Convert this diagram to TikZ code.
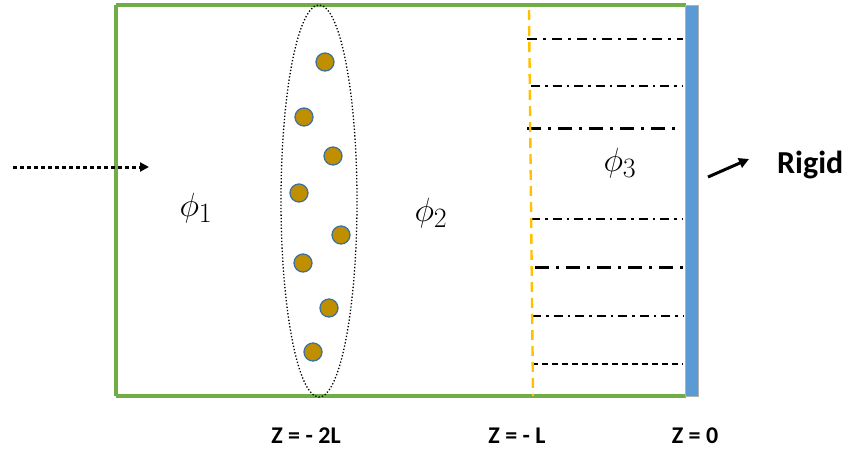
\documentclass[tikz,border=0pt]{standalone}
\usepackage{fontspec}
\newfontfamily\calib{Carlito}
\usetikzlibrary{arrows.meta}
\definecolor{bgreen}{HTML}{70AD47}
\definecolor{bblue}{HTML}{5B9BD5}
\definecolor{byellow}{HTML}{FFC000}
\definecolor{dotfill}{HTML}{BF8F00}
\definecolor{dotline}{HTML}{41719C}
\newcommand{\bigphi}[1]{\scalebox{1.35}{$\phi_{#1}$}}
\tikzset{
  wall/.style={draw=bgreen, line width=4pt},
  particle/.style={circle, fill=dotfill, draw=dotline, line width=1.3pt, minimum size=18pt, inner sep=0pt},
  lbl/.style={font=\calib\bfseries\fontsize{24}{28}\selectfont, inner sep=0pt, anchor=base},
  philbl/.style={font=\fontsize{24.88}{30}\selectfont, inner sep=0pt},
  thickdd/.style={line width=3pt, dash pattern=on 14pt off 7pt on 3pt off 7pt},
  medd/.style={line width=2.6pt, dash pattern=on 10pt off 6pt on 3pt off 6pt},
  thindd/.style={line width=1.6pt, dash pattern=on 9pt off 5pt on 2.5pt off 5pt},
  thinda/.style={line width=1.6pt, dash pattern=on 6pt off 4pt},
}
\begin{document}
\begin{tikzpicture}[x=1pt,y=-1pt]
\useasboundingbox (0,0) rectangle (851,451);
% container
\draw[wall] (116,5) -- (686,5);
\draw[wall] (116,396) -- (686,396);
\draw[wall] (116,5) -- (116,396);
% dash-dot lines
\draw[medd] (527,39) -- (683,39);
\draw[thindd] (531,86) -- (683,86);
\draw[thickdd] (527,128) -- (677,128);
\draw[thindd] (531,219) -- (683,219);
\draw[thickdd] (535,267) -- (683,267);
\draw[thindd] (532,316) -- (683,316);
\draw[thinda] (532,364) -- (683,364);
% interface
\draw[byellow, line width=2.4pt, dash pattern=on 10pt off 6pt] (529,10) -- (533,396);
% rigid wall
\node[draw=gray!60, line width=0.8pt, fill=bblue, minimum width=13pt, minimum height=391pt, inner sep=0pt] (wallR) at (692,201) {};
% ellipse
\draw[line width=1.3pt, dotted] (319,201) ellipse [x radius=38, y radius=196];
% particles
\node[particle] (p1) at (325,62) {};
\node[particle] (p2) at (304,117) {};
\node[particle] (p3) at (333,156) {};
\node[particle] (p4) at (299,193) {};
\node[particle] (p5) at (341,235) {};
\node[particle] (p6) at (303,263) {};
\node[particle] (p7) at (329,308) {};
\node[particle] (p8) at (313,352) {};
% labels
\node[philbl] (phi1) at (196,208) {\bigphi{1}};
\node[philbl] (phi2) at (431,213) {\bigphi{2}};
\node[philbl] (phi3) at (620,163) {\bigphi{3}};
\node[lbl, font=\calib\bfseries\fontsize{32}{36}\selectfont, anchor=base west] (rigid) at (777,173) {Rigid};
\node[lbl] (z2) at (306,443) {Z = - 2L};
\node[lbl] (z1) at (517,443) {Z = - L};
\node[lbl] (z0) at (695,443) {Z = 0};
% arrows
\coordinate (inS) at (13,167);
\coordinate (inE) at (149,167);
\draw[line width=3pt, dash pattern=on 3.5pt off 3.5pt, -{Triangle[length=9pt,width=9pt]}] (inS) -- (inE);
\coordinate (rS) at (708,177);
\coordinate (rE) at (749,159);
\draw[line width=3pt, -{Triangle[length=10pt,width=10pt]}] (rS) -- (rE);
\end{tikzpicture}
\end{document}
